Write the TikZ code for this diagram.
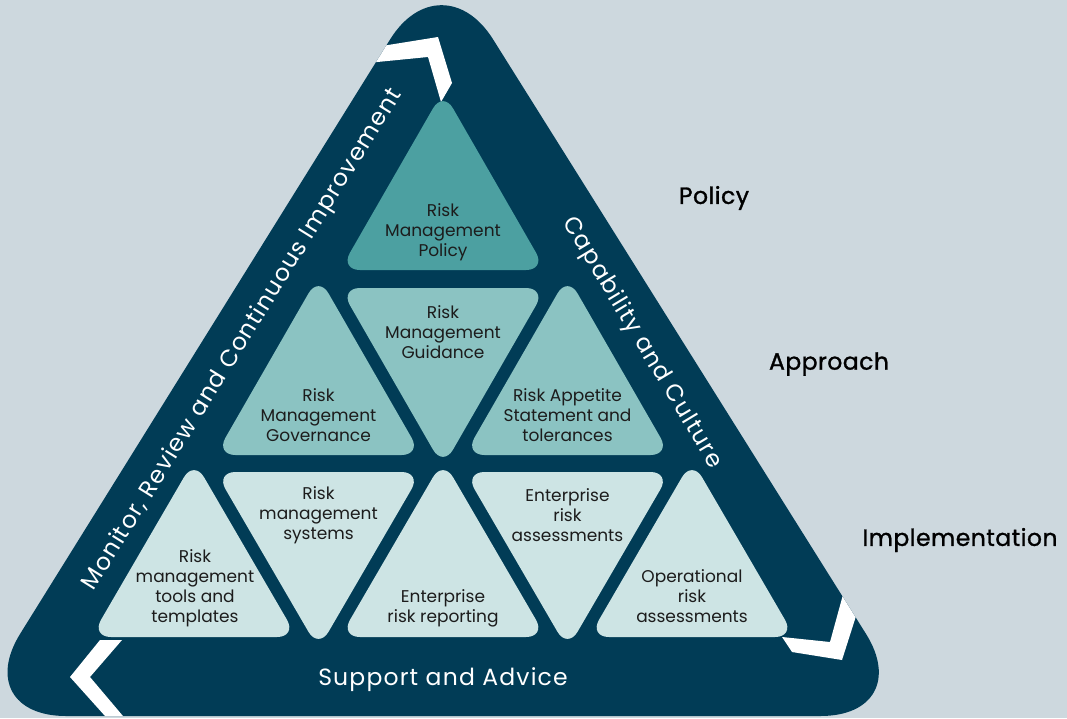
\documentclass[tikz,border=0pt]{standalone}
\usepackage{fontspec}
\setmainfont{Poppins}
\newfontfamily\medfont[FakeBold=1.2,LetterSpace=2]{Poppins}
\newfontfamily\bandfont[LetterSpace=5]{Poppins}
\definecolor{bg}{HTML}{CDD8DE}
\definecolor{navy}{HTML}{013C56}
\definecolor{tealA}{HTML}{4CA0A1}
\definecolor{tealB}{HTML}{8BC3C2}
\definecolor{tealC}{HTML}{CDE4E4}
\definecolor{ink}{HTML}{1C1C1C}
\newcommand\UpTri[4]{\fill[#4, rounded corners=20pt] ({#1},{#2-12}) -- ({#1+103},{#3}) -- ({#1-103},{#3}) -- cycle;}
\newcommand\DnTri[4]{\fill[#4, rounded corners=20pt] ({#1-103},{#2}) -- ({#1+103},{#2}) -- ({#1},{#3+12}) -- cycle;}
\begin{document}
\begin{tikzpicture}[x=1pt,y=-1pt,
  trilabel/.style={align=center, text=ink, font=\fontsize{17}{20}\selectfont, inner sep=0pt},
  sidelabel/.style={text=black, font=\medfont\fontsize{23.5}{26}\selectfont, inner sep=0pt},
  bandlabel/.style={text=white, font=\bandfont\fontsize{23.5}{26}\selectfont, inner sep=0pt},
  chevron/.style={fill=white}]
\useasboundingbox (0,0) rectangle (1067,718);
\fill[bg] (0,0) rectangle (1067,718);
% outer triangle
\coordinate (OT) at (441.4,-43);
\coordinate (OR) at (917.5,716);
\coordinate (OL) at (-31,716);
\fill[navy, rounded corners=97pt] (OT) -- (OR) -- (OL) -- cycle;
% chevrons
\begin{scope}
\clip[rounded corners=97pt] (OT) -- (OR) -- (OL) -- cycle;
\fill[chevron] (360,49.5) -- (438,37) -- (452,83) -- (441,102) -- (428,57) -- (360,63.7) -- cycle;
\fill[chevron] (847,580) -- (867.5,580) -- (842,660) -- (792,652) -- (782,637) -- (830,642) -- cycle;
\fill[chevron] (100,640) -- (122,640) -- (90,677) -- (134.8,730) -- (117.6,730) -- (70,677) -- cycle;
\end{scope}
% row 1
\UpTri{443}{103}{270}{tealA}
% row 2
\UpTri{318.5}{288}{455}{tealB}
\DnTri{443}{288}{455}{tealB}
\UpTri{567.5}{288}{455}{tealB}
% row 3
\UpTri{194}{472}{637}{tealC}
\DnTri{318.5}{472}{637}{tealC}
\UpTri{443}{472}{637}{tealC}
\DnTri{567.5}{472}{637}{tealC}
\UpTri{692}{472}{637}{tealC}
% triangle labels
\node[trilabel] (policy) at (443,232) {Risk\\Management\\Policy};
\node[trilabel] (guid) at (443,332) {Risk\\Management\\Guidance};
\node[trilabel] (gov) at (318.5,415) {Risk\\Management\\Governance};
\node[trilabel] (app) at (567.5,415) {Risk Appetite\\Statement and\\tolerances};
\node[trilabel] (tools) at (195,588) {Risk\\management\\tools and\\templates};
\node[trilabel] (sys) at (318.5,515) {Risk\\management\\systems};
\node[trilabel] (rep) at (443,608) {Enterprise\\risk reporting};
\node[trilabel] (ent) at (567.5,515) {Enterprise\\risk\\assessments};
\node[trilabel] (ops) at (692,596) {Operational\\risk\\assessments};
% band labels
\node[bandlabel] (support) at (443,680) {Support and Advice};
\node[bandlabel, rotate=58.2] (monitor) at (243,340) {Monitor, Review and Continuous Improvement};
\node[bandlabel, rotate=-59] (capab) at (642,343) {Capability and Culture};
% side labels
\node[sidelabel] (lpolicy) at (714,198) {Policy};
\node[sidelabel] (lappr) at (829,364) {Approach};
\node[sidelabel] (limpl) at (960,540) {Implementation};
\end{tikzpicture}
\end{document}
